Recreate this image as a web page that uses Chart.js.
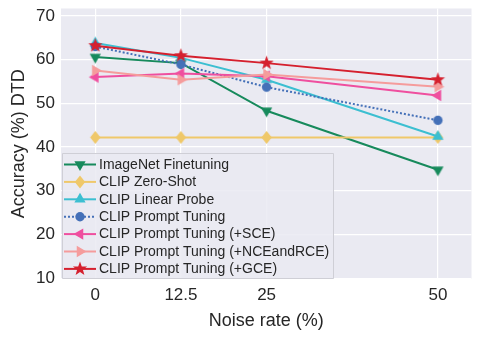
<!DOCTYPE html>
<html><head><meta charset="utf-8">
<script src="https://cdn.jsdelivr.net/npm/chart.js@4/dist/chart.umd.min.js"></script>
<style>html,body{margin:0;padding:0;background:#fff}#wrap{width:480px;height:337px}</style>
</head><body><div id="wrap"><canvas id="c" width="480" height="337"></canvas></div>
<script>
const noiseRates = [0, 12.5, 25, 50];
const xTickLabels = ['0', '12.5', '25', '50'];
const yTicks = [10, 20, 30, 40, 50, 60, 70];
const imagenetFinetuning = [60.6, 59.2, 48.3, 34.8];
const clipZeroShot = [42.2, 42.2, 42.2, 42.2];
const clipLinearProbe = [63.8, 60.4, 55.4, 42.4];
const clipPromptTuning = [63.0, 58.9, 53.7, 46.1];
const clipPromptSCE = [56.0, 56.8, 56.2, 51.8];
const clipPromptNCEandRCE = [57.5, 55.4, 56.6, 53.8];
const clipPromptGCE = [63.2, 60.9, 59.2, 55.4];
const seriesNames = ['ImageNet Finetuning','CLIP Zero-Shot','CLIP Linear Probe','CLIP Prompt Tuning','CLIP Prompt Tuning (+SCE)','CLIP Prompt Tuning (+NCEandRCE)','CLIP Prompt Tuning (+GCE)'];

const colors = ['#178a5c','#efc86a','#3cbfd1','#4470b8','#ef4f9f','#f59c9c','#d5202e'];
const markers = ['tdown','diamond','tup','circle','tleft','tright','star'];

function markerPath(ctx, m, x, y, r) {
  ctx.beginPath();
  if (m === 'circle') { ctx.arc(x, y, r*0.72, 0, Math.PI*2); }
  else if (m === 'diamond') { const d=r*1.0; ctx.moveTo(x,y-d);ctx.lineTo(x+d*0.8,y);ctx.lineTo(x,y+d);ctx.lineTo(x-d*0.8,y);ctx.closePath(); }
  else if (m === 'star') {
    for (let i=0;i<10;i++){const a=-Math.PI/2+i*Math.PI/5;const rr=i%2===0?r*1.15:r*0.47;const px=x+rr*Math.cos(a),py=y+rr*Math.sin(a);i?ctx.lineTo(px,py):ctx.moveTo(px,py);} ctx.closePath();
  } else {
    const rot = {tup:-Math.PI/2,tdown:Math.PI/2,tleft:Math.PI,tright:0}[m];
    for (let i=0;i<3;i++){const a=rot+i*2*Math.PI/3;const px=x+r*Math.cos(a),py=y+r*Math.sin(a); i?ctx.lineTo(px,py):ctx.moveTo(px,py);} ctx.closePath();
  }
}
function markerCanvas(m, color, r) {
  const s = Math.ceil(r*2.6); const cv=document.createElement('canvas'); cv.width=s; cv.height=s;
  const g=cv.getContext('2d'); g.fillStyle=color; markerPath(g,m,s/2,s/2,r); g.fill(); return cv;
}
const R = 6.5;
const seriesData = [imagenetFinetuning, clipZeroShot, clipLinearProbe, clipPromptTuning, clipPromptSCE, clipPromptNCEandRCE, clipPromptGCE];
const datasets = seriesData.map((vals, i) => ({
  label: seriesNames[i],
  data: noiseRates.map((x, j) => ({x, y: vals[j]})),
  borderColor: colors[i], backgroundColor: colors[i],
  borderWidth: 2, borderDash: i===3 ? [2,2] : [],
  pointStyle: markerCanvas(markers[i], colors[i], R),
  pointRadius: R, order: -i, tension: 0
}));

const bgPlugin = {
  id: 'bg',
  beforeDraw(chart) {
    const {ctx, chartArea:a} = chart;
    ctx.save(); ctx.fillStyle = '#eaeaf2'; ctx.fillRect(a.left, a.top, a.right-a.left, a.bottom-a.top); ctx.restore();
  },
  afterDraw(chart) {
    const {ctx} = chart;
    const bx=62, by=153, bw=271, bh=125, rowH=17.4, y0=164.5;
    ctx.save();
    ctx.fillStyle='rgba(234,234,242,0.85)'; ctx.strokeStyle='#cfcfd6'; ctx.lineWidth=1;
    ctx.beginPath(); ctx.rect(bx+0.5,by+0.5,bw,bh); ctx.fill(); ctx.stroke();
    ctx.font='14px "Liberation Sans", Arial, sans-serif'; ctx.textBaseline='middle'; ctx.fillStyle='#262626';
    seriesNames.forEach((n,i)=>{
      const y=y0+i*rowH;
      ctx.strokeStyle=colors[i]; ctx.lineWidth=2; ctx.setLineDash(i===3?[2,2]:[]);
      ctx.beginPath(); ctx.moveTo(64,y); ctx.lineTo(96,y); ctx.stroke(); ctx.setLineDash([]);
      ctx.fillStyle=colors[i]; markerPath(ctx,markers[i],80,y,R); ctx.fill();
      ctx.fillStyle='#262626'; ctx.fillText(n,99,y+0.5);
    });
    ctx.restore();
  }
};

new Chart(document.getElementById('c'), {
  type: 'line',
  data: { datasets },
  options: {
    responsive: false, animation: false, devicePixelRatio: 1,
    layout: { padding: { top: 8, right: 0, left: 0, bottom: 0 } },
    plugins: { legend: { display: false }, tooltip: { enabled: false } },
    scales: {
      x: {
        type: 'linear', min: -5, max: 54.9,
        afterBuildTicks(s){ s.ticks = noiseRates.map(v=>({value:v})); },
        afterFit(s){ s.height = 58; s.paddingLeft = 0; s.paddingRight = 0; },
        grid: { color: '#ffffff', lineWidth: 1.2, drawTicks: false },
        border: { display: false },
        ticks: { padding: 6, color: '#262626', font: { family: '"Liberation Sans", Arial, sans-serif', size: 17 },
          callback: (v) => { const k = noiseRates.indexOf(v); return k>=0 ? xTickLabels[k] : ''; } },
        title: { display: true, text: 'Noise rate (%)', color: '#262626', padding: {top: 4, bottom: 5}, font: { family: '"Liberation Sans", Arial, sans-serif', size: 18 } }
      },
      y: {
        min: 9.8, max: 71.7,
        afterBuildTicks(s){ s.ticks = yTicks.map(v=>({value:v})); },
        afterFit(s){ s.width = 61; s.paddingTop = 0; s.paddingBottom = 0; },
        grid: { color: '#ffffff', lineWidth: 1.2, drawTicks: false },
        border: { display: false },
        ticks: { padding: 6, color: '#262626', font: { family: '"Liberation Sans", Arial, sans-serif', size: 17 } },
        title: { display: true, text: 'Accuracy (%) DTD', color: '#262626', padding: {top: 8, bottom: 0}, font: { family: '"Liberation Sans", Arial, sans-serif', size: 18 } }
      }
    }
  },
  plugins: [bgPlugin]
});
</script></body></html>
